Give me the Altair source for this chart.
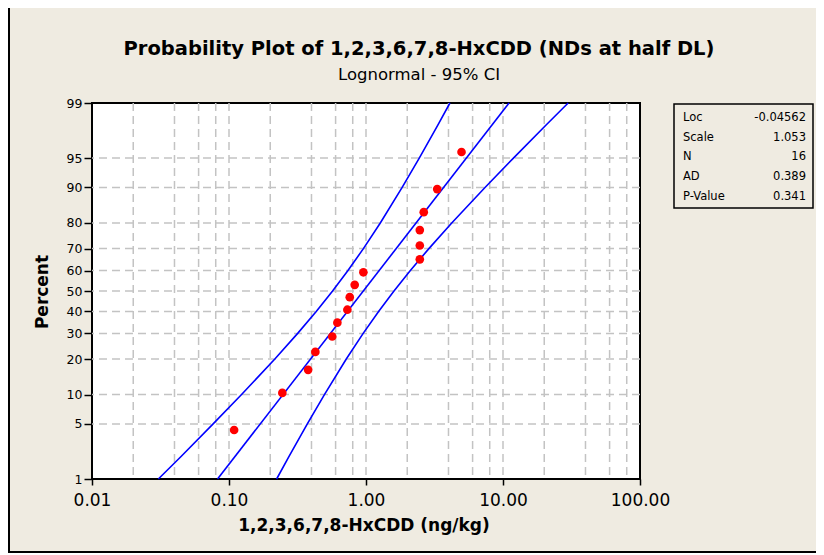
import altair as alt
import pandas as pd
from statistics import NormalDist

# ---------------- data ----------------
TITLE = "Probability Plot of 1,2,3,6,7,8-HxCDD (NDs at half DL)"
SUBTITLE = "Lognormal - 95% CI"
X_TITLE = "1,2,3,6,7,8-HxCDD (ng/kg)"
Y_TITLE = "Percent"

# observed concentrations (ng/kg) and their plotting positions (percent)
conc = [0.109, 0.245, 0.378, 0.427, 0.567, 0.618, 0.731, 0.761, 0.827, 0.957,
        2.47, 2.47, 2.47, 2.64, 3.31, 4.98]
pct = [4.27, 10.37, 16.46, 22.56, 28.66, 34.76, 40.85, 46.95, 53.05, 59.15,
       65.24, 71.34, 77.44, 83.54, 89.63, 95.73]

# fitted lognormal line
fit_pct = [1, 99]
fit_x = [0.0825, 11.07]

# 95% confidence bounds
ci_pct = [1, 2, 5, 10, 20, 30, 40, 50, 60, 70, 80, 90, 95, 98, 99]
ci_left = [0.0305, 0.0443, 0.0766, 0.1235, 0.2161, 0.3172, 0.4332, 0.5703,
           0.7385, 0.9572, 1.2715, 1.8360, 2.4476, 3.3438, 4.0988]
ci_right = [0.2227, 0.2730, 0.3730, 0.4972, 0.7179, 0.9536, 1.2360, 1.6006,
            2.1071, 2.8774, 4.2249, 7.3905, 11.916, 20.629, 29.883]

# statistics table
stat_names = ["Loc", "Scale", "N", "AD", "P-Value"]
stat_values = ["-0.04562", "1.053", "16", "0.389", "0.341"]

# axes
x_ticks = [0.01, 0.1, 1, 10, 100]
x_grid = [0.02, 0.04, 0.06, 0.08, 0.1, 0.2, 0.4, 0.6, 0.8, 1, 2, 4, 6, 8, 10,
          20, 40, 60, 80]
y_ticks = [1, 5, 10, 20, 30, 40, 50, 60, 70, 80, 90, 95, 99]
y_grid = [5, 10, 20, 30, 40, 50, 60, 70, 80, 90, 95]

# ---------------- helpers ----------------
nd = NormalDist()


def probit(p):
    return nd.inv_cdf(p / 100.0)


FONT = "DejaVu Sans"
W, H = 548, 376
PAD_BOTTOM = 74
ZMIN, ZMAX = probit(1), probit(99)

xs = alt.Scale(type="log", domain=[0.01, 100], nice=False)
ys = alt.Scale(domain=[ZMIN, ZMAX], nice=False, zero=False)

xaxis = alt.Axis(values=x_ticks, format=".2f", title=None, grid=False,
                 domain=False, tickSize=6, tickWidth=1.5, tickColor="black",
                 labelFontSize=17, labelFont=FONT, labelColor="black",
                 labelPadding=7, labelFlush=False, labelOverlap=False)
yaxis = alt.Axis(values=[probit(v) for v in y_ticks],
                 labelExpr="format(round(cumulativeNormal(datum.value)*100), 'd')",
                 title=None, grid=False, domain=False, tickSize=8,
                 tickWidth=1.5, tickColor="black", labelFontSize=12.5,
                 labelFont=FONT, labelColor="black", labelPadding=2,
                 labelFlush=False, labelOverlap=False)


def X(field):
    return alt.X(field, type="quantitative", scale=xs, axis=xaxis)


def Y(field):
    return alt.Y(field, type="quantitative", scale=ys, axis=yaxis)


pts = pd.DataFrame({"x": conc, "z": [probit(p) for p in pct]})
fit = pd.DataFrame({"x": fit_x, "z": [probit(p) for p in fit_pct]})
lo = pd.DataFrame({"x": ci_left, "z": [probit(p) for p in ci_pct]})
hi = pd.DataFrame({"x": ci_right, "z": [probit(p) for p in ci_pct]})
gx = pd.DataFrame({"x": x_grid})
gy = pd.DataFrame({"z": [probit(p) for p in y_grid]})

GRID = dict(color="#c3c3c3", strokeWidth=1.5, strokeDash=[8, 5])

vgrid = alt.Chart(gx).mark_rule(**GRID).encode(x=X("x"))
hgrid = alt.Chart(gy).mark_rule(**GRID).encode(y=Y("z"))

LINE = dict(color="#0000ff", strokeWidth=1.6)
fit_line = alt.Chart(fit).mark_line(**LINE).encode(x=X("x"), y=Y("z"), order="z:Q")
lo_line = alt.Chart(lo).mark_line(**LINE).encode(x=X("x"), y=Y("z"), order="z:Q")
hi_line = alt.Chart(hi).mark_line(**LINE).encode(x=X("x"), y=Y("z"), order="z:Q")

points = alt.Chart(pts).mark_circle(color="#ff0000", size=75, opacity=1).encode(
    x=X("x"), y=Y("z"))


def text(txt, x, y, size, bold=False, align="center", angle=0, baseline="alphabetic"):
    kw = dict(fontSize=size, font=FONT, color="black", align=align,
              baseline=baseline, fontWeight="bold" if bold else "normal")
    if angle:
        kw["angle"] = angle
    return alt.Chart(pd.DataFrame({"t": [txt]})).mark_text(**kw).encode(
        text="t:N", x=alt.value(x), y=alt.value(y))


layers = [vgrid, hgrid, lo_line, fit_line, hi_line, points]

layers.append(text(TITLE, 327, -48, 19.5, bold=True))
layers.append(text(SUBTITLE, 327, -23, 16.5))
layers.append(text(X_TITLE, 272, 428, 17, bold=True))
layers.append(text(Y_TITLE, -49, 189, 17, bold=True, angle=270, baseline="middle"))

# statistics box
layers.append(alt.Chart(pd.DataFrame({"a": [0]})).mark_rect(
    fill=None, stroke="black", strokeWidth=1.5).encode(
    x=alt.value(582), x2=alt.value(721), y=alt.value(1), y2=alt.value(105)))
for i, (nm, vl) in enumerate(zip(stat_names, stat_values)):
    yy = 15 + i * 19.7
    layers.append(text(nm, 591, yy, 11.5, align="left", baseline="middle"))
    layers.append(text(vl, 714, yy, 11.5, align="right", baseline="middle"))

# edges of the graph window
layers.append(alt.Chart(pd.DataFrame({"a": [0]})).mark_rule(
    color="black", strokeWidth=2).encode(
    x=alt.value(-83), y=alt.value(-95), y2=alt.value(H + PAD_BOTTOM)))
layers.append(alt.Chart(pd.DataFrame({"a": [0]})).mark_rule(
    color="black", strokeWidth=2).encode(
    x=alt.value(-84), x2=alt.value(W + 176), y=alt.value(H + PAD_BOTTOM - 1)))

chart = alt.layer(*layers).properties(
    width=W, height=H,
    autosize=alt.AutoSizeParams(type="none"),
    padding={"left": 84, "top": 95, "right": 176, "bottom": PAD_BOTTOM},
    background="#efebe1",
).configure_view(fill="white", stroke="black", strokeWidth=2)

chart.save("out.html", embed_options={"renderer": "svg", "actions": False})
